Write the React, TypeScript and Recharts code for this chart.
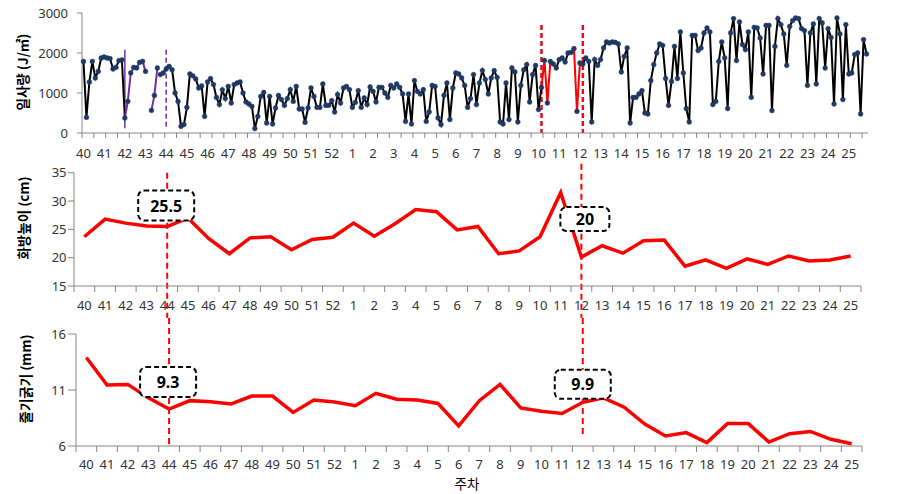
import React from 'react';
import { LineChart, Line, XAxis, YAxis, ReferenceLine, ReferenceDot } from 'recharts';

// week labels shared by all three panels
const weekLabels = [
  '40', '41', '42', '43', '44', '45', '46', '47', '48', '49', '50', '51', '52',
  '1', '2', '3', '4', '5', '6', '7', '8', '9', '10', '11', '12', '13', '14', '15',
  '16', '17', '18', '19', '20', '21', '22', '23', '24', '25',
];

// daily radiation (J/m2), one value per day from week 40
const radiation: (number | null)[] = [
  1790, 390, 1275, 1790, 1375, 1540, 1875, 1900, 1875, 1860, 1600, 1640, 1810, 1825,
  375, 790, 1500, 1640, 1625, 1765, 1790, 1540, null, 565, 940, 1625,
  1460, 1500, 1600, 1665, 1580, 1000, 790, 165, 210, 640, 1475, 1430, 1350, 1125,
  1175, 415, 1275, 1360, 1210, 890, 710, 1080, 860, 1165, 750, 1210, 1250, 1275,
  1000, 775, 725, 665, 110, 415, 915, 1015, 250, 915, 225, 625, 940, 835,
  690, 860, 1085, 790, 1165, 600, 600, 265, 625, 1125, 915, 640, 640, 1225,
  690, 690, 810, 525, 960, 750, 1125, 1165, 1085, 640, 765, 1060, 640, 875,
  710, 1150, 1040, 775, 1140, 1140, 1000, 890, 1190, 1125,
  1225, 1140, 975, 290, 975, 225, 1310, 1040, 975, 1085, 290, 525, 1190, 1165,
  375, 210, 940, 1250, 335, 1125, 1500, 1475, 1375, 1190, 640, 860, 1460, 710,
  1250, 1560, 1335, 975, 1375, 1560, 1390, 275, 225, 1250, 335, 1625, 1525, 275,
  1190, 1580, 1710, 775, 1460, 1690, 585, 1140, 1815, 750, 1790, 1725,
  1625, 1835, 1875, 1775, 2000, 2015, 2110, 540, 1750, 1725, 1875, 1790, 275, 1835,
  1690, 1835, 2125, 2275, 2250, 2275, 2265, 2225, 1525, 1915, 2125, 250, 890, 890,
  975, 1060, 500, 475, 1310, 1710, 2000, 2225, 2190, 1360, 690, 1290, 2165, 1360,
  2525, 1500, 610, 275, 2440, 2440, 2060, 2125, 2500, 2625, 2525, 710,
  790, 1790, 2275, 1875, 610, 2500, 2860, 1810, 2775, 2210, 2085, 2525, 890, 2640,
  2625, 2375, 1475, 2690, 2690, 560, 2165, 2860, 2710, 2475, 1690, 2665, 2810, 2875,
  2860, 2610, 2560, 1190, 2500, 2725, 1225, 2860, 2750, 1625, 2610, 2390, 725, 2875,
  2475, 835, 2710, 1475, 1500, 1960, 2000, 475, 2335, 1975,
];

// day ranges drawn in purple / red
const purpleRanges = [[14, 25]];
const redRanges = [[155, 158], [164, 168]];

// weekly cluster height (cm)
const clusterHeight = [
  23.7, 26.8, 26.1, 25.6, 25.5, 27.0, 23.4, 20.7, 23.5, 23.7, 21.4, 23.2, 23.6,
  26.1, 23.8, 26.0, 28.5, 28.1, 24.9, 25.5, 20.7, 21.2, 23.7, 31.5, 20.1, 22.1,
  20.8, 23.0, 23.1, 18.5, 19.6, 18.1, 19.8, 18.8, 20.3, 19.4, 19.6, 20.3,
];

// weekly stem diameter (mm)
const stemDiameter = [
  13.9, 11.45, 11.5, 10.3, 9.3, 10.05, 9.96, 9.75, 10.46, 10.46, 9.0, 10.1, 9.93,
  9.6, 10.7, 10.17, 10.1, 9.8, 7.8, 10.05, 11.5, 9.4, 9.1, 8.9, 9.9, 10.3,
  9.46, 7.96, 6.9, 7.2, 6.3, 8.0, 8.0, 6.35, 7.1, 7.3, 6.6, 6.2,
];

const radTicks = [0, 1000, 2000, 3000];
const heightTicks = [15, 20, 25, 30, 35];
const stemTicks = [6, 11, 16];

const AXIS = '#868686';
const TXT = '#333';
const FONT = "'Noto Sans', 'Noto Sans CJK KR', sans-serif";
const KFONT = "'Noto Sans CJK KR', 'Noto Sans', sans-serif";

const inRange = (ranges: number[][], i: number, endOpen = false) =>
  ranges.some(([a, b]) => (endOpen ? i > a && i <= b : i > a && i < b));
const onRange = (ranges: number[][], i: number) => ranges.some(([a, b]) => i >= a && i <= b);

const topData = radiation.map((v, i) => ({
  d: i,
  all: v,
  base: inRange(purpleRanges, i, true) || inRange(redRanges, i) ? null : v,
  purple: onRange(purpleRanges, i) ? v : null,
  red: onRange(redRanges, i) ? v : null,
}));

const weekData = weekLabels.map((w, i) => ({ w, h: clusterHeight[i], s: stemDiameter[i] }));

const TOP_BAND = 786 / radiation.length;

const TopTick = (props: any) => {
  const { x, y, payload } = props;
  const i = Number(payload.value);
  return (
    <g>
      {i % 4 === 0 && <line x1={x - TOP_BAND / 2} x2={x - TOP_BAND / 2} y1={y} y2={y + 5} stroke={AXIS} />}
      {i % 7 === 0 && (
        <text x={x} y={y + 25} textAnchor="middle" fontSize={13} fill={TXT} fontFamily={FONT}>
          {weekLabels[i / 7]}
        </text>
      )}
    </g>
  );
};

const makeWeekTick = (band: number, gap: number) => (props: any) => {
  const { x, y, payload, index } = props;
  const last = index === weekLabels.length - 1;
  return (
    <g>
      <line x1={x - band / 2} x2={x - band / 2} y1={y} y2={y + 6} stroke={AXIS} />
      {last && <line x1={x + band / 2} x2={x + band / 2} y1={y} y2={y + 6} stroke={AXIS} />}
      <text x={x} y={y + gap} textAnchor="middle" fontSize={13} fill={TXT} fontFamily={FONT}>
        {payload.value}
      </text>
    </g>
  );
};

const DashLine = (p: any) => {
  const top = Math.min(p.y1, p.y2) - (p.up || 0);
  const bottom = Math.max(p.y1, p.y2) + (p.down || 0);
  return <line x1={p.x1} x2={p.x2} y1={top} y2={bottom} stroke="#FF0000" strokeWidth={2} strokeDasharray="6 4" />;
};

const NoteBox = (p: any) => {
  const bx = p.cx + p.dx;
  const by = p.cy + p.dy;
  return (
    <g>
      <rect
        x={bx - p.w / 2}
        y={by - p.h / 2}
        width={p.w}
        height={p.h}
        rx={6}
        fill="#fff"
        stroke="#000"
        strokeWidth={2}
        strokeDasharray="5 3"
      />
      <text x={bx} y={by} textAnchor="middle" dominantBaseline="central" fontWeight="bold" fontSize={16} fontFamily={FONT}>
        {p.text}
      </text>
    </g>
  );
};

const yTick = { fontSize: 13, fill: TXT, fontFamily: FONT };

const App: React.FC = () => {
  return (
    <div style={{ position: 'absolute', left: 0, top: 0, width: 907, height: 494, background: '#fff' }}>
      {/* daily radiation */}
      <div style={{ position: 'absolute', left: 0, top: 0 }}>
        <LineChart width={907} height={166} data={topData} margin={{ top: 13, right: 39, bottom: 0, left: 0 }}>
          <XAxis
            dataKey="d"
            type="category"
            scale="band"
            interval={0}
            height={33}
            tickSize={0}
            tickMargin={0}
            tickLine={false}
            stroke={AXIS}
            tick={<TopTick />}
          />
          <YAxis
            domain={[0, 3000]}
            ticks={radTicks}
            width={82}
            tickSize={5}
            tickMargin={9}
            stroke={AXIS}
            tick={yTick}
          />
          <ReferenceLine segment={[{ x: 14, y: 2080 }, { x: 14, y: 120 }]} stroke="#7030A0" strokeWidth={1.5} />
          <ReferenceLine
            segment={[{ x: 28, y: 2080 }, { x: 28, y: 120 }]}
            stroke="#7030A0"
            strokeWidth={1.5}
            strokeDasharray="5 3"
          />
          <ReferenceLine
            segment={[{ x: 155, y: 2700 }, { x: 155, y: 0 }]}
            stroke="#E0101E"
            strokeWidth={2.5}
            strokeDasharray="5 3"
          />
          <ReferenceLine
            segment={[{ x: 169, y: 2700 }, { x: 169, y: 0 }]}
            stroke="#E0101E"
            strokeWidth={2.5}
            strokeDasharray="5 3"
          />
          <Line dataKey="base" stroke="#000" strokeWidth={2} dot={false} isAnimationActive={false} />
          <Line dataKey="purple" stroke="#7030A0" strokeWidth={2} dot={false} isAnimationActive={false} />
          <Line dataKey="red" stroke="#FF0000" strokeWidth={2} dot={false} isAnimationActive={false} />
          <Line
            dataKey="all"
            stroke="none"
            dot={{ r: 2.4, fill: '#1F3864', stroke: '#1F3864', strokeWidth: 0.5 }}
            activeDot={false}
            isAnimationActive={false}
          />
        </LineChart>
      </div>

      {/* cluster height */}
      <div style={{ position: 'absolute', left: 0, top: 160 }}>
        <LineChart width={907} height={158} data={weekData} margin={{ top: 12.7, right: 46, bottom: 0, left: 0 }}>
          <XAxis
            dataKey="w"
            scale="band"
            interval={0}
            height={32}
            tickSize={0}
            tickMargin={0}
            tickLine={false}
            stroke={AXIS}
            tick={makeWeekTick(787 / 38, 24)}
          />
          <YAxis
            domain={[15, 35]}
            ticks={heightTicks}
            width={74}
            tickSize={6}
            tickMargin={1.5}
            stroke={AXIS}
            tick={yTick}
          />
          <Line dataKey="h" stroke="#FF0000" strokeWidth={3.5} dot={false} isAnimationActive={false} />
          <ReferenceLine x="44" shape={<DashLine down={32} />} />
          <ReferenceLine x="12" shape={<DashLine up={9} down={32} />} />
          <ReferenceDot
            x="44"
            y={clusterHeight[4]}
            shape={(p: any) => <NoteBox {...p} text="25.5" dx={-1} dy={-21} w={56} h={30} />}
          />
          <ReferenceDot
            x="12"
            y={clusterHeight[24]}
            shape={(p: any) => <NoteBox {...p} text="20" dx={3.5} dy={-38} w={49} h={24} />}
          />
        </LineChart>
      </div>

      {/* stem diameter */}
      <div style={{ position: 'absolute', left: 0, top: 318 }}>
        <LineChart width={907} height={176} data={weekData} margin={{ top: 16, right: 45, bottom: 0, left: 0 }}>
          <XAxis
            dataKey="w"
            scale="band"
            interval={0}
            height={48}
            tickSize={0}
            tickMargin={0}
            tickLine={false}
            stroke={AXIS}
            tick={makeWeekTick(786 / 38, 23)}
          />
          <YAxis
            domain={[6, 16]}
            ticks={stemTicks}
            width={76}
            tickSize={8}
            tickMargin={2}
            stroke={AXIS}
            tick={yTick}
          />
          <Line dataKey="s" stroke="#FF0000" strokeWidth={3.5} dot={false} isAnimationActive={false} />
          <ReferenceLine x="44" shape={<DashLine up={16} down={-1} />} />
          <ReferenceLine x="12" shape={<DashLine up={16} down={-9} />} />
          <ReferenceDot
            x="44"
            y={stemDiameter[4]}
            shape={(p: any) => <NoteBox {...p} text="9.3" dx={-1} dy={-27} w={56} h={30} />}
          />
          <ReferenceDot
            x="12"
            y={stemDiameter[24]}
            shape={(p: any) => <NoteBox {...p} text="9.9" dx={0} dy={-18} w={56} h={29} />}
          />
        </LineChart>
      </div>

      {/* axis titles */}
      <svg width={907} height={494} style={{ position: 'absolute', left: 0, top: 0, pointerEvents: 'none' }}>
        <text x={22} y={72} transform="rotate(-90, 22, 72)" textAnchor="middle" dominantBaseline="central" fontWeight="bold" fontSize={13.5} fontFamily={KFONT} fill="#000">
          일사량 (J/㎡)
        </text>
        <text x={23} y={218} transform="rotate(-90, 23, 218)" textAnchor="middle" dominantBaseline="central" fontWeight="bold" fontSize={13.5} fontFamily={KFONT} fill="#000">
          화방높이 (cm)
        </text>
        <text x={25} y={379} transform="rotate(-90, 25, 379)" textAnchor="middle" dominantBaseline="central" fontWeight="bold" fontSize={13.5} fontFamily={KFONT} fill="#000">
          줄기굵기 (mm)
        </text>
        <text x={467} y={489} textAnchor="middle" fontSize={13.5} fontFamily={KFONT} fill="#000">
          주차
        </text>
      </svg>
    </div>
  );
};

export default App;
